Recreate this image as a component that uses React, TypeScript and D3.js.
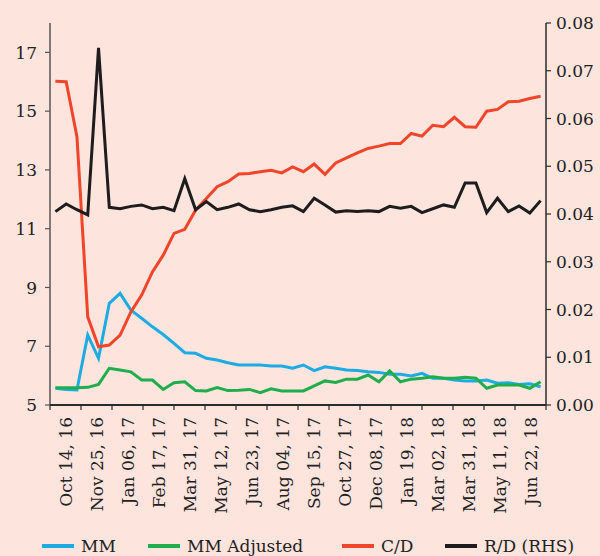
import React from 'react';
import * as d3 from 'd3';

// fortnightly reporting dates (Mar 30 and Mar 31, 18 both present)
const dates = [
  '2016-10-14', '2016-10-28', '2016-11-11', '2016-11-25', '2016-12-09', '2016-12-23',
  '2017-01-06', '2017-01-20', '2017-02-03', '2017-02-17', '2017-03-03', '2017-03-17',
  '2017-03-31', '2017-04-14', '2017-04-28', '2017-05-12', '2017-05-26', '2017-06-09',
  '2017-06-23', '2017-07-07', '2017-07-21', '2017-08-04', '2017-08-18', '2017-09-01',
  '2017-09-15', '2017-09-29', '2017-10-13', '2017-10-27', '2017-11-10', '2017-11-24',
  '2017-12-08', '2017-12-22', '2018-01-05', '2018-01-19', '2018-02-02', '2018-02-16',
  '2018-03-02', '2018-03-16', '2018-03-30', '2018-03-31', '2018-04-13', '2018-04-27',
  '2018-05-11', '2018-05-25', '2018-06-08', '2018-06-22',
];

const mm = [
  5.57, 5.53, 5.51, 7.38, 6.59, 8.46, 8.8, 8.23, 7.95, 7.66,
  7.4, 7.1, 6.78, 6.76, 6.59, 6.53, 6.44, 6.36, 6.36, 6.36,
  6.33, 6.33, 6.25, 6.36, 6.17, 6.3, 6.25, 6.19, 6.17, 6.13,
  6.11, 6.05, 6.05, 5.99, 6.08, 5.91, 5.91, 5.85, 5.82, 5.82,
  5.85, 5.74, 5.76, 5.7, 5.72, 5.62,
];

const mmAdjusted = [
  5.59, 5.59, 5.59, 5.6, 5.7, 6.25, 6.19, 6.13, 5.85, 5.85,
  5.53, 5.76, 5.79, 5.49, 5.48, 5.59, 5.49, 5.5, 5.53, 5.42,
  5.55, 5.48, 5.48, 5.48, 5.65, 5.82, 5.77, 5.88, 5.88, 6.02,
  5.79, 6.16, 5.79, 5.88, 5.91, 5.96, 5.91, 5.91, 5.94, 5.91,
  5.57, 5.68, 5.68, 5.68, 5.57, 5.79,
];

const cd = [
  16.02, 16.0, 14.13, 8.0, 6.98, 7.04, 7.38, 8.17, 8.74, 9.53,
  10.1, 10.84, 10.98, 11.63, 12.03, 12.43, 12.6, 12.86, 12.88, 12.94,
  12.99, 12.9, 13.1, 12.94, 13.2, 12.85, 13.24, 13.41, 13.58, 13.73,
  13.81, 13.9, 13.9, 14.24, 14.15, 14.52, 14.47, 14.79, 14.47, 14.45,
  15.0, 15.06, 15.32, 15.34, 15.43, 15.51,
];

const rd = [
  0.0405, 0.0421, 0.0409, 0.0398, 0.0748, 0.0414, 0.0411, 0.0416, 0.0419, 0.0411,
  0.0414, 0.0407, 0.0474, 0.0409, 0.0426, 0.0409, 0.0414, 0.0421, 0.0409, 0.0405,
  0.0409, 0.0414, 0.0417, 0.0405, 0.0433, 0.0419, 0.0404, 0.0407, 0.0405, 0.0407,
  0.0405, 0.0416, 0.0412, 0.0416, 0.0403, 0.0411, 0.0419, 0.0414, 0.0465, 0.0465,
  0.0403, 0.0433, 0.0405, 0.0417, 0.0402, 0.0428,
];

const xLabels = [
  'Oct 14, 16', 'Nov 25, 16', 'Jan 06, 17', 'Feb 17, 17', 'Mar 31, 17', 'May 12, 17',
  'Jun 23, 17', 'Aug 04, 17', 'Sep 15, 17', 'Oct 27, 17', 'Dec 08, 17', 'Jan 19, 18',
  'Mar 02, 18', 'Mar 31, 18', 'May 11, 18', 'Jun 22, 18',
];

const leftTicks = [5, 7, 9, 11, 13, 15, 17];
const rightTicks = [0, 0.01, 0.02, 0.03, 0.04, 0.05, 0.06, 0.07, 0.08];

const W = 600;
const H = 556;
const left = 50;
const right = 546;
const top = 23;
const bottom = 405;
const font = '"DejaVu Serif", serif';
const axisColor = '#2b2b2b';

const series = [
  { name: 'MM', values: mm, color: '#1cabe2', axis: 'left' },
  { name: 'MM Adjusted', values: mmAdjusted, color: '#1fae4b', axis: 'left' },
  { name: 'C/D', values: cd, color: '#f0452a', axis: 'left' },
  { name: 'R/D (RHS)', values: rd, color: '#1e1c1c', axis: 'right' },
];

const legendX = [42, 148, 342, 445];

export default function App() {
  const x = d3.scalePoint<string>().domain(dates).range([left, right]).padding(0.5);
  const xBand = d3.scaleBand<string>().domain(xLabels).range([left, right]);
  const yL = d3.scaleLinear().domain([5, 18]).range([bottom, top]);
  const yR = d3.scaleLinear().domain([0, 0.08]).range([bottom, top]);

  const makeLine = (s: typeof series[number]) => {
    const y = s.axis === 'left' ? yL : yR;
    return d3
      .line<number>()
      .x((_, i) => x(dates[i]) as number)
      .y((d) => y(d))(s.values) || '';
  };

  const tickPositions = xLabels.map((l) => xBand(l) as number).concat([right]);

  return (
    <svg
      width={W}
      height={H}
      style={{ position: 'absolute', left: 0, top: 0, display: 'block' }}
      fontFamily={font}
    >
      <rect width={W} height={H} fill="#fde4dd" />

      {series.map((s) => (
        <path
          key={s.name}
          d={makeLine(s)}
          fill="none"
          stroke={s.color}
          strokeWidth={3}
          strokeLinejoin="miter"
        />
      ))}

      {/* left axis */}
      <line x1={left} x2={left} y1={top} y2={bottom} stroke="#555" strokeWidth={1.5} />
      {leftTicks.map((t) => (
        <g key={t} transform={`translate(0,${yL(t)})`}>
          <line x1={left - 5} x2={left} stroke="#555" strokeWidth={1.2} />
          <text x={37} dy="0.36em" textAnchor="end" fontSize={17} fill="#222">
            {t}
          </text>
        </g>
      ))}

      {/* right axis */}
      <line x1={right} x2={right} y1={top} y2={bottom} stroke={axisColor} strokeWidth={1.5} />
      {rightTicks.map((t) => (
        <g key={t} transform={`translate(0,${yR(t)})`}>
          <line x1={right} x2={right + 5} stroke={axisColor} strokeWidth={1.2} />
          <text x={556} dy="0.36em" fontSize={17} fill="#222">
            {t.toFixed(2)}
          </text>
        </g>
      ))}

      {/* bottom axis */}
      <line x1={left} x2={right} y1={bottom} y2={bottom} stroke={axisColor} strokeWidth={2} />
      {tickPositions.map((p, i) => (
        <line key={i} x1={p} x2={p} y1={bottom} y2={bottom + 5} stroke={axisColor} strokeWidth={1.2} />
      ))}
      {xLabels.map((l) => {
        const cx = (xBand(l) as number) + xBand.bandwidth() / 2;
        return (
          <text
            key={l}
            transform={`translate(${cx},${bottom + 12}) rotate(-90)`}
            textAnchor="end"
            dy="0.36em"
            fontSize={17}
            fill="#222"
          >
            {l}
          </text>
        );
      })}

      {/* legend */}
      {series.map((s, i) => (
        <g key={s.name} transform={`translate(${legendX[i]},546)`}>
          <line x1={0} x2={32} stroke={s.color} strokeWidth={4} />
          <text x={39} dy="0.36em" fontSize={17} fill="#222">
            {s.name}
          </text>
        </g>
      ))}
    </svg>
  );
}
